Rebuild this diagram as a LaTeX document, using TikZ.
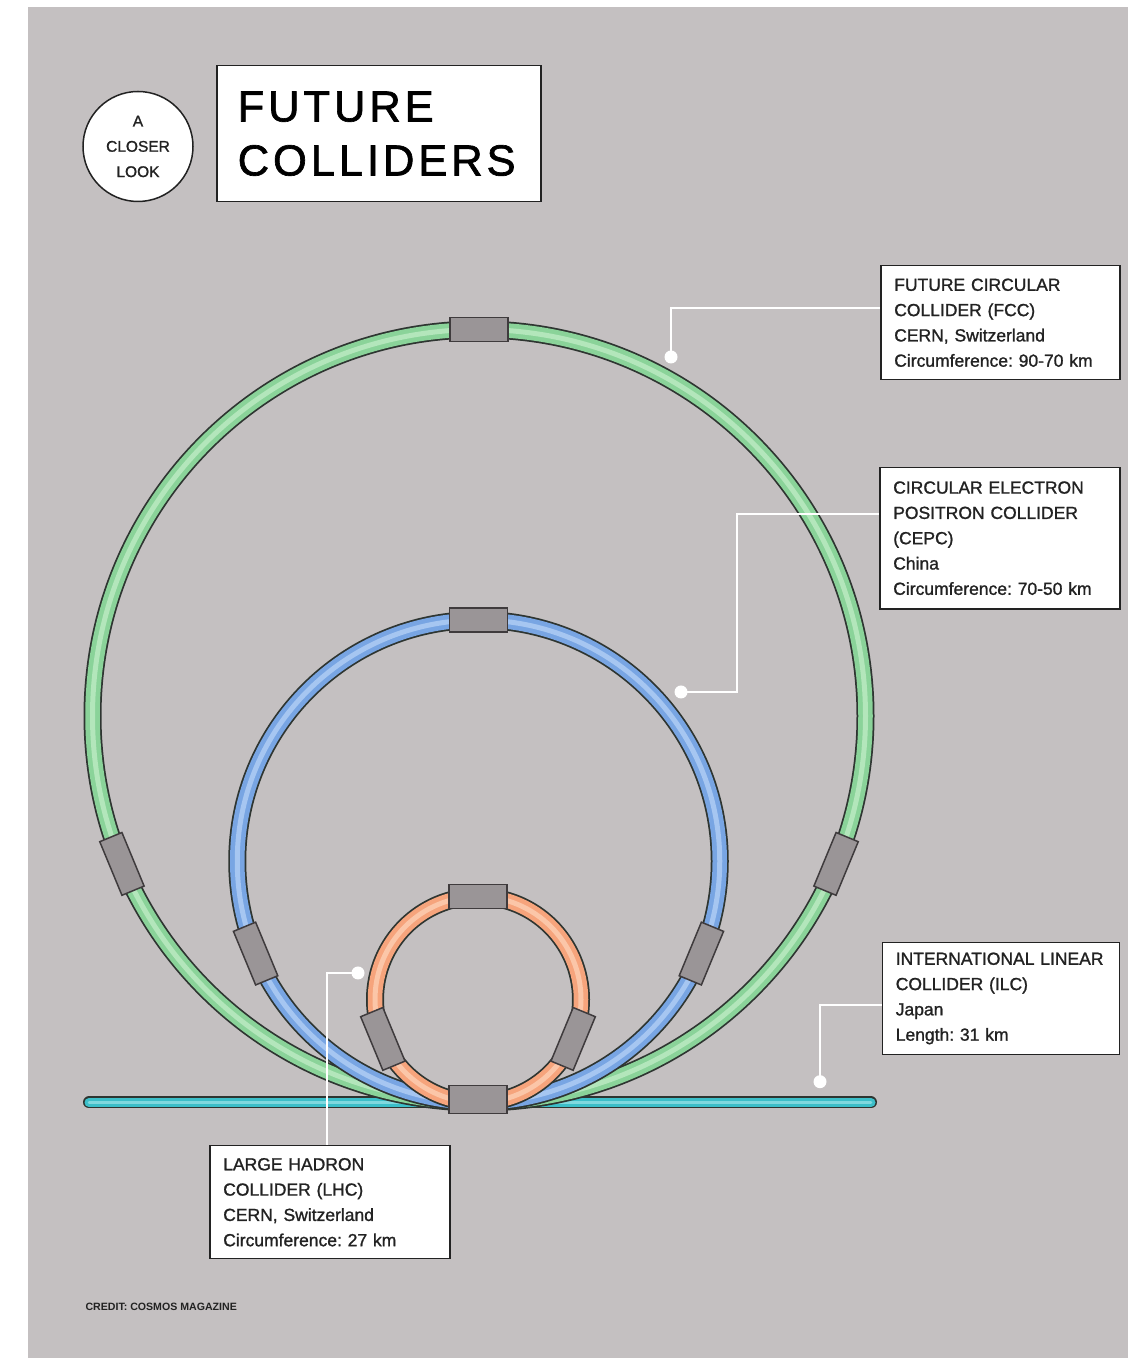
\documentclass[tikz,border=0pt]{standalone}
\usepackage{fontspec}
\setmainfont{Liberation Sans}
\newfontfamily\labelfont{Liberation Sans}[FakeBold=1.2]
\newfontfamily\titlefont{Liberation Sans}[FakeBold=1.5, LetterSpace=9]
\usepackage{xcolor}
\usepackage{tikz}
\frenchspacing

\definecolor{bggrey}{HTML}{C4C0C1}
\definecolor{ringedge}{HTML}{2E3531}
\definecolor{fccgreen}{HTML}{8AD399}
\definecolor{fcclight}{HTML}{B3E6BB}
\definecolor{cepcblue}{HTML}{78A5E3}
\definecolor{cepclight}{HTML}{A6C6F1}
\definecolor{lhcorange}{HTML}{F6A47C}
\definecolor{lhclight}{HTML}{FBC6A8}
\definecolor{ilcteal}{HTML}{3CBFC9}
\definecolor{ilclight}{HTML}{80D9DF}
\definecolor{blockgrey}{HTML}{9A9597}
\definecolor{blockedge}{HTML}{3F3B3D}
\definecolor{inktext}{HTML}{222222}

\tikzset{
    magnet/.style={draw=blockedge, fill=blockgrey, line width=1.5, minimum width=58, minimum height=24, inner sep=0},
    infobox/.style={draw=inktext, line width=1.5, fill=white, anchor=north west, inner xsep=13.5, inner ysep=0, align=left, text=inktext, font=\labelfont\fontsize{17.5}{25.3}\selectfont},
    leader/.style={draw=white, line width=2}
}

\begin{document}
\begin{tikzpicture}[x=1pt, y=1pt]
        \useasboundingbox (0,0) rectangle (1128,1358);
        \fill[white] (0,0) rectangle (1128,1358);
        \fill[bggrey] (28,0) rectangle (1128,1351);

        % Header
        \node[circle, draw=inktext, line width=1.5, fill=white, minimum size=110, inner sep=0, align=center, text=inktext, font=\labelfont\fontsize{15.5}{25.3}\selectfont] (closer) at (138,1211.5) {A\\CLOSER\\LOOK};
        \node[draw=inktext, line width=1.5, fill=white, anchor=north west, minimum width=324, minimum height=136, inner xsep=21, text width=282, align=left, text=black, font=\titlefont\fontsize{43.5}{54}\selectfont] (title) at (216,1293) {FUTURE\\COLLIDERS};

        % ILC
        \draw[line width=12, line cap=round, ringedge] (89,255.5) -- (871,255.5);
        \draw[line width=9, line cap=round, ilcteal] (89,255.5) -- (871,255.5);
        \draw[line width=2.5, line cap=round, ilclight] (89,255.5) -- (871,255.5);

        % FCC
        \coordinate (fccc) at (479,642);
        \draw[line width=18, ringedge] (fccc) circle (386.5);
        \draw[line width=14.5, fccgreen] (fccc) circle (386.5);
        \draw[line width=5, fcclight] (fccc) circle (386.5);

        % CEPC
        \coordinate (cepcc) at (478.5,496.75);
        \draw[line width=18, ringedge] (cepcc) circle (241.25);
        \draw[line width=14.5, cepcblue] (cepcc) circle (241.25);
        \draw[line width=5, cepclight] (cepcc) circle (241.25);

        % LHC
        \coordinate (lhcc) at (478,358.5);
        \draw[line width=18, ringedge] (lhcc) circle (103);
        \draw[line width=14.5, lhcorange] (lhcc) circle (103);
        \draw[line width=5, lhclight] (lhcc) circle (103);

        % Blocks
        \node[magnet] (fcctop) at ([shift={(90:386.5)}]fccc) {};
        \node[magnet, rotate=112.5] (fccleft) at ([shift={(202.5:386.5)}]fccc) {};
        \node[magnet, rotate=247.5] (fccright) at ([shift={(337.5:386.5)}]fccc) {};
        \node[magnet] (cepctop) at ([shift={(90:241.25)}]cepcc) {};
        \node[magnet, rotate=112.5] (cepcleft) at ([shift={(202.5:241.25)}]cepcc) {};
        \node[magnet, rotate=247.5] (cepcright) at ([shift={(337.5:241.25)}]cepcc) {};
        \node[magnet] (lhctop) at ([shift={(90:103)}]lhcc) {};
        \node[magnet, rotate=112.5] (lhcleft) at ([shift={(202.5:103)}]lhcc) {};
        \node[magnet, rotate=247.5] (lhcright) at ([shift={(337.5:103)}]lhcc) {};
        \node[magnet, minimum height=28] (ip) at (478,258.5) {};

        % Callouts
        \node[infobox, text width=212, minimum height=114] (fcc) at (880,1093) {FUTURE CIRCULAR\\COLLIDER (FCC)\\CERN, Switzerland\\Circumference: 90-70 km};
        \node[infobox, text width=213, minimum height=141.5] (cepc) at (879,891.3) {CIRCULAR ELECTRON\\POSITRON COLLIDER\\(CEPC)\\China\\Circumference: 70-50 km};
        \node[infobox, text width=210, minimum height=112] (ilc) at (881.5,416.3) {INTERNATIONAL LINEAR\\COLLIDER (ILC)\\Japan\\Length: 31 km};
        \node[infobox, text width=213, minimum height=113] (lhc) at (209,213) {LARGE HADRON\\COLLIDER (LHC)\\CERN, Switzerland\\Circumference: 27 km};

        \coordinate (fccdot) at (671,1001);
        \draw[leader] (fccdot) |- ([yshift=-43]fcc.north west);
        \fill[white] (fccdot) circle (6.5);

        \coordinate (cepcdot) at (681,666);
        \draw[leader] (cepcdot) -- ++(56,0) |- ([yshift=-47]cepc.north west);
        \fill[white] (cepcdot) circle (6.5);

        \coordinate (ilcdot) at (820,276.3);
        \draw[leader] (ilcdot) |- ([yshift=-63]ilc.north west);
        \fill[white] (ilcdot) circle (6.5);

        \coordinate (lhcdot) at (358,385);
        \draw[leader] (lhcdot) -| ([xshift=118]lhc.north west);
        \fill[white] (lhcdot) circle (6.5);

        \node[anchor=base west, text=inktext, font=\fontsize{10.6}{12}\selectfont\bfseries] (credit) at (82,47) {CREDIT: COSMOS MAGAZINE};
    \end{tikzpicture}
\end{document}
